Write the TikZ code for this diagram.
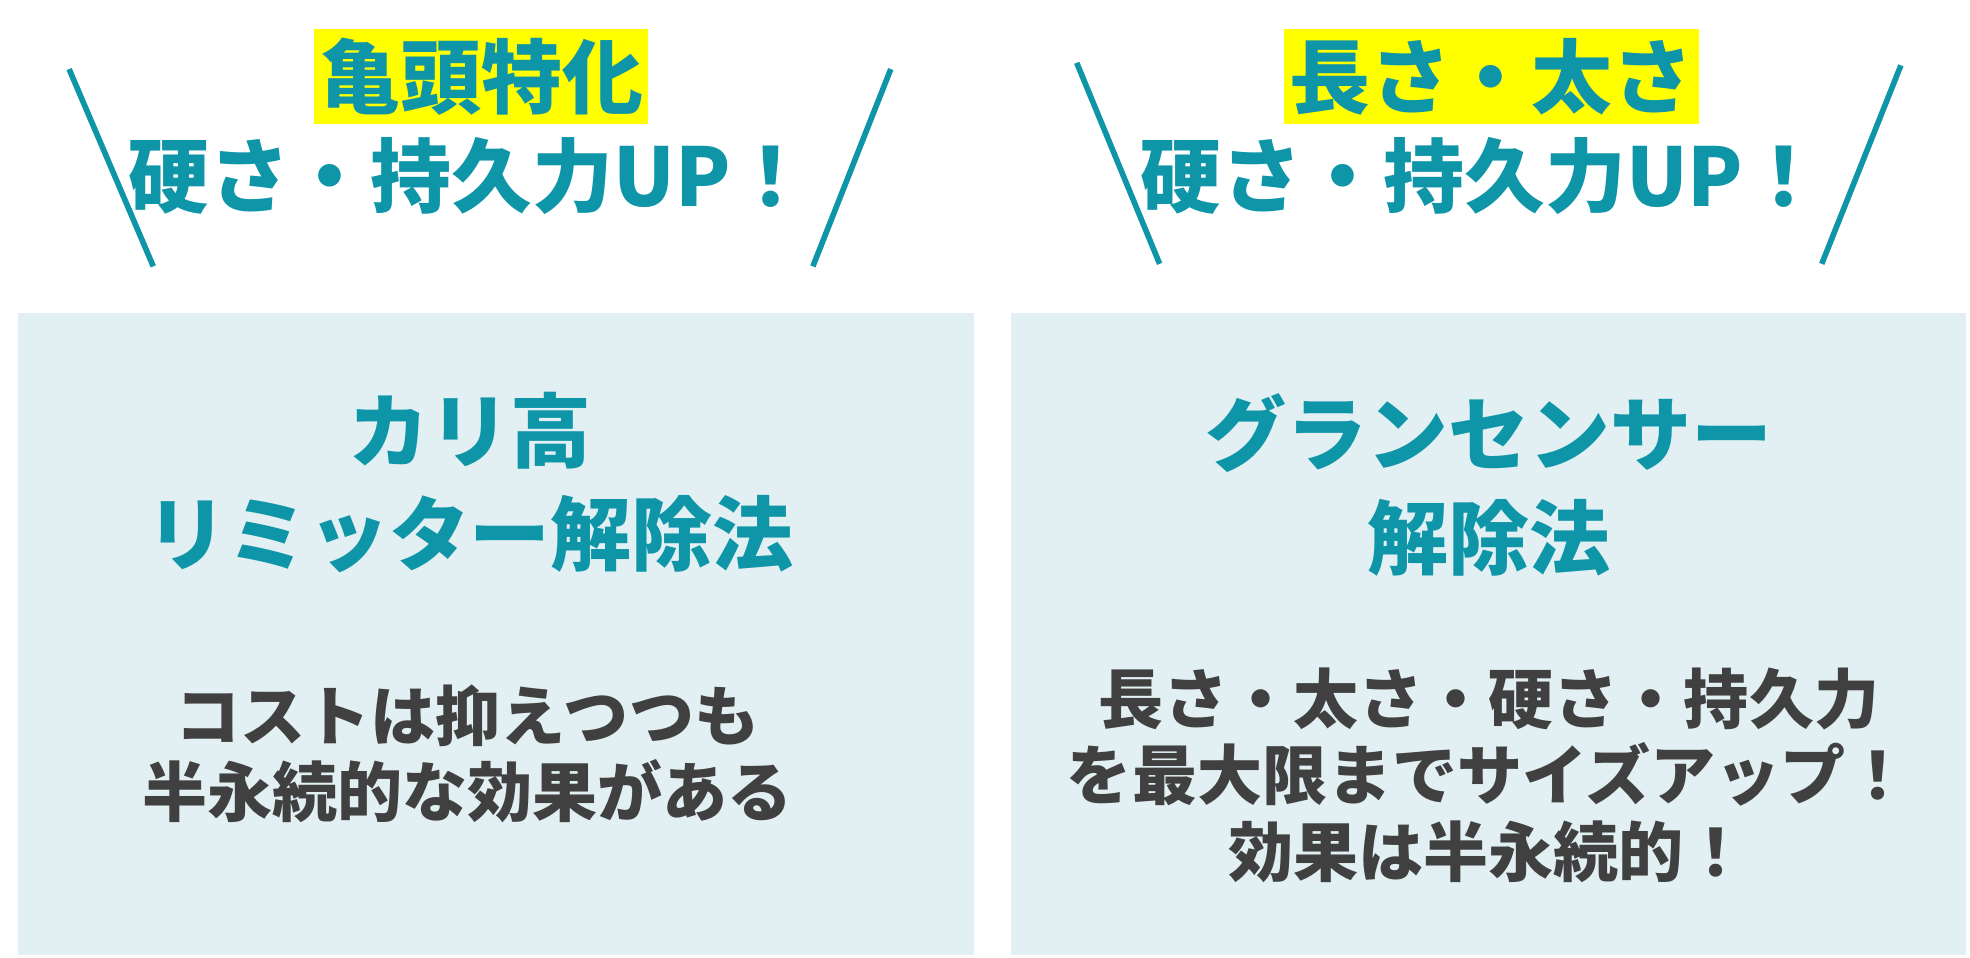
\documentclass[tikz,border=0pt]{standalone}
\usepackage{fontspec}
\newfontfamily\jp{Noto Sans CJK JP}
\usetikzlibrary{positioning}
\definecolor{teal}{RGB}{14, 149, 168}
\definecolor{boxfill}{RGB}{226, 240, 243}
\definecolor{bodygray}{RGB}{64, 64, 64}
\definecolor{hiyellow}{RGB}{255, 255, 0}
\tikzset{
  panel/.style={fill=boxfill, draw=none},
  headline/.style={teal, font=\jp\bfseries\fontsize{46}{52}\selectfont, inner sep=0pt},
  marker/.style={headline, fill=hiyellow, inner xsep=3pt, inner ysep=5pt},
  title/.style={teal, font=\jp\bfseries\fontsize{46}{59}\selectfont, align=center},
  body/.style={bodygray, font=\jp\bfseries\fontsize{37}{43.5}\selectfont, align=center},
  spark/.style={teal, line width=3.2pt}
}
\begin{document}
\begin{tikzpicture}[x=0.02512cm, y=-0.02512cm]
  \useasboundingbox (0,0) rectangle (1568,762);
  % panels
  \fill[panel] (14,249) rectangle (775,760);
  \fill[panel] (805,249) rectangle (1565,760);
  % left heading
  \node[marker] (tagL) at (383,61) {亀頭特化};
  \node[headline] (headL) at (374,140) {硬さ・持久力UP！};
  \draw[spark] (55,55) -- (122,212);
  \draw[spark] (709,55) -- (647,212);
  % right heading
  \node[marker] (tagR) at (1187,61) {長さ・太さ};
  \node[headline] (headR) at (1180,140) {硬さ・持久力UP！};
  \draw[spark] (857,50) -- (923,210);
  \draw[spark] (1513,52) -- (1450,210);
  % left panel
  \node[title] (methodL) at (374,384) {カリ高\\リミッター解除法};
  \node[body] (noteL) at (372,600) {コストは抑えつつも\\半永続的な効果がある};
  % right panel
  \node[title] (methodR) at (1185,386) {グランセンサー\\解除法};
  \node[body] (noteR) at (1185,617) {長さ・太さ・硬さ・持久力\\を最大限までサイズアップ！\\効果は半永続的！};
\end{tikzpicture}
\end{document}
